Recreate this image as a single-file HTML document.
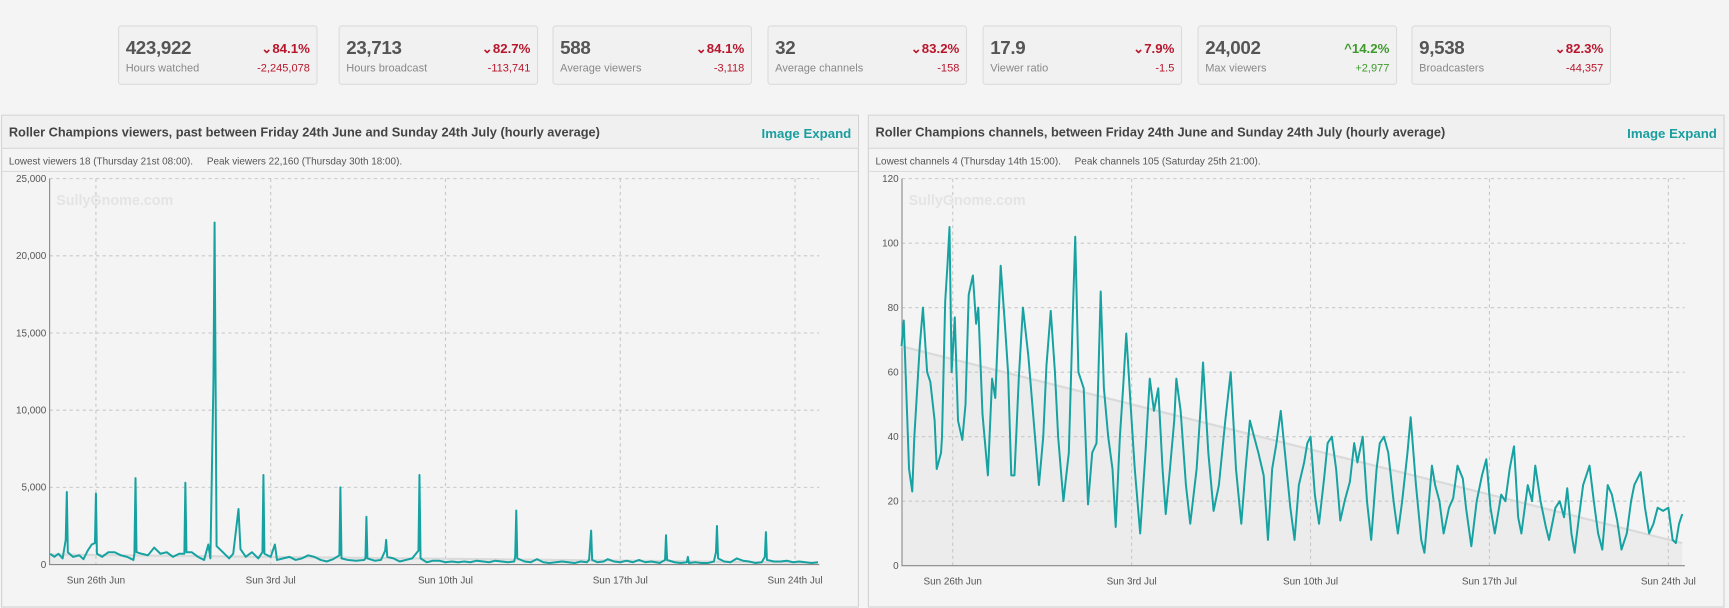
<!DOCTYPE html>
<html><head><meta charset="utf-8">
<style>
html,body{margin:0;padding:0;background:#f4f4f4;overflow:hidden}
body{width:1729px;height:597px;font-family:"Liberation Sans",sans-serif}
#wrap{position:absolute;left:0;top:0;width:1568px;height:542px;transform:scale(1.10268);transform-origin:0 0}
.card{position:absolute;top:23px;width:179px;height:52px;border:1px solid #dcdcdc;border-radius:3px;background:#f1f1f1}
.num{position:absolute;left:6px;top:10px;font-size:17px;color:#555;font-weight:bold;letter-spacing:-0.3px}
.lbl{position:absolute;left:6px;top:33px;font-size:10px;color:#888}
.pct{position:absolute;right:6px;top:13px;font-size:12px;font-weight:bold;color:#b8162c}
.dlt{position:absolute;right:6px;top:33px;font-size:10px;color:#b8162c}
.up{color:#3e9a2c}
.panel{position:absolute;top:104px;height:445px;border:1px solid #d2d2d2;background:#f4f4f4}
.phead{position:absolute;left:0;right:0;top:0;height:29px;border-bottom:1px solid #d8d8d8;background:#f0f0f0}
.ptitle{position:absolute;left:6px;top:9px;font-size:11.6px;font-weight:bold;color:#444}
.plinks{position:absolute;right:6px;top:9px;font-size:12px;font-weight:bold;color:#1a9e9e}
.psub{position:absolute;left:6px;top:36px;font-size:9px;color:#555}
.psubline{position:absolute;left:0;right:0;top:50px;border-top:1px solid #dcdcdc}
svg{position:absolute;left:0;top:0}
</style></head><body>
<div id="wrap">
<div class="card" style="left:107px"><div class="num">423,922</div><div class="lbl">Hours watched</div><div class="pct">⌄84.1%</div><div class="dlt">-2,245,078</div></div>
<div class="card" style="left:307px"><div class="num">23,713</div><div class="lbl">Hours broadcast</div><div class="pct">⌄82.7%</div><div class="dlt">-113,741</div></div>
<div class="card" style="left:501px"><div class="num">588</div><div class="lbl">Average viewers</div><div class="pct">⌄84.1%</div><div class="dlt">-3,118</div></div>
<div class="card" style="left:696px"><div class="num">32</div><div class="lbl">Average channels</div><div class="pct">⌄83.2%</div><div class="dlt">-158</div></div>
<div class="card" style="left:891px"><div class="num">17.9</div><div class="lbl">Viewer ratio</div><div class="pct">⌄7.9%</div><div class="dlt">-1.5</div></div>
<div class="card" style="left:1086px"><div class="num">24,002</div><div class="lbl">Max viewers</div><div class="pct up">^14.2%</div><div class="dlt up">+2,977</div></div>
<div class="card" style="left:1280px"><div class="num">9,538</div><div class="lbl">Broadcasters</div><div class="pct">⌄82.3%</div><div class="dlt">-44,357</div></div>

<div class="panel" style="left:1px;width:776px">
 <div class="phead"><div class="ptitle">Roller Champions viewers, past between Friday 24th June and Sunday 24th July (hourly average)</div>
 <div class="plinks"><span>Image</span> <span>Expand</span></div></div>
 <div class="psub">Lowest viewers 18 (Thursday 21st 08:00).&nbsp;&nbsp;&nbsp;&nbsp;&nbsp;Peak viewers 22,160 (Thursday 30th 18:00).</div>
 <div class="psubline"></div>
</div>
<div class="panel" style="left:787px;width:775px">
 <div class="phead"><div class="ptitle">Roller Champions channels, between Friday 24th June and Sunday 24th July (hourly average)</div>
 <div class="plinks"><span>Image</span> <span>Expand</span></div></div>
 <div class="psub">Lowest channels 4 (Thursday 14th 15:00).&nbsp;&nbsp;&nbsp;&nbsp;&nbsp;Peak channels 105 (Saturday 25th 21:00).</div>
 <div class="psubline"></div>
</div>
<svg id="chart" width="1568" height="542"></svg>
</div>
<script>
// hours since Fri 24 Jun 00:00
const xTickLabels = ["Sun 26th Jun","Sun 3rd Jul","Sun 10th Jul","Sun 17th Jul","Sun 24th Jul"];
const xTickHours = [48,216,384,552,720];
const viewerTicks = [0,5000,10000,15000,20000,25000];
const viewerTickLabels = ["0","5,000","10,000","15,000","20,000","25,000"];
const channelTicks = [0,20,40,60,80,100,120];
const channelTickLabels = ["0","20","40","60","80","100","120"];
const viewerHours = [4,8,12,16,19,20,21,26,32,36,40,44,47,48,49,54,60,66,72,78,84,85,86,87,92,98,104,110,116,122,128,133,134,135,140,146,152,156,158,161,162,163,164,170,176,180,185,187,192,198,204,208,209,210,216,220,222,228,234,240,246,252,258,264,270,276,282,283,284,290,298,306,307,308,309,316,322,326,327,328,334,340,346,352,358,359,360,366,372,378,384,390,396,402,408,414,420,426,432,438,444,450,451,452,453,460,466,472,478,484,490,496,502,508,514,520,522,524,525,530,536,540,546,552,558,564,570,576,582,590,595,596,597,604,610,616,617,618,624,630,636,642,644,645,646,652,658,664,670,676,682,688,691,692,693,700,706,712,718,724,730,736,742];
const viewerValues = [700,500,700,400,1600,4700,800,500,600,350,900,1300,1400,4600,700,500,800,800,600,500,300,700,5600,800,700,600,1100,700,800,500,700,700,5300,800,800,500,300,1300,400,12000,22160,12000,1200,800,400,700,3600,1000,500,800,400,800,5800,700,500,1300,300,400,500,300,400,600,500,300,200,350,600,5000,400,300,250,300,400,3100,400,250,300,900,1600,500,400,200,300,400,900,5800,400,150,250,250,150,200,150,200,150,250,200,150,250,200,150,200,500,3500,400,200,150,350,150,100,150,200,150,100,200,150,300,2200,300,150,200,350,200,150,250,150,300,150,200,100,300,1900,300,150,100,150,500,100,150,100,100,200,800,2500,400,200,150,400,250,200,100,150,500,2100,300,200,200,250,150,200,150,100,150];
const viewerTrend = [650,120];
const channelHours = [0,2,7,10,12,17,20,24,27,31,33,37,38,41,43,45,47,50,53,57,60,63,67,70,72,76,81,85,88,93,97,100,103,106,110,114,119,124,129,133,136,140,144,147,152,157,161,163,166,171,175,179,183,187,190,194,198,201,205,208,211,215,219,224,229,233,237,241,245,248,252,256,258,262,267,271,277,281,283,288,293,298,304,309,314,319,323,327,331,335,340,344,348,352,356,360,365,369,373,378,381,384,388,392,397,400,404,408,412,416,421,425,428,433,437,441,446,449,453,457,462,466,470,475,478,483,488,491,494,498,501,505,509,514,518,522,527,530,535,540,545,549,553,557,563,567,571,575,579,582,588,592,595,600,605,608,614,618,622,625,629,632,636,640,646,650,654,658,663,667,672,676,681,685,688,694,698,702,706,710,715,720,724,727,730,733];
const channelValues = [68,76,30,23,40,68,80,60,57,45,30,35,40,82,93,105,60,77,45,39,50,84,90,75,80,47,28,58,52,93,75,60,28,28,58,80,65,45,25,40,62,79,60,40,20,35,80,102,60,55,19,35,38,85,55,40,30,12,40,55,72,50,30,10,35,58,48,55,30,16,30,45,58,48,25,13,30,50,63,35,17,25,45,60,30,13,30,45,40,35,28,8,30,38,48,35,18,8,25,32,38,40,22,13,28,38,40,30,14,20,26,38,32,40,20,8,30,38,40,35,20,10,20,35,46,25,8,4,15,31,25,20,10,18,21,31,27,18,6,20,28,33,18,10,22,20,30,37,15,10,25,20,31,20,12,8,18,20,15,24,10,4,15,25,31,20,10,5,25,22,14,5,10,20,25,29,18,10,13,18,17,18,8,7,13,16];
const channelTrend = [68,7];

const svg = document.getElementById('chart');
const NS = 'http://www.w3.org/2000/svg';
function mk(tag, attrs){const e=document.createElementNS(NS,tag);for(const k in attrs)e.setAttribute(k,attrs[k]);svg.appendChild(e);return e;}

function drawChart(cfg){
  const x = h => cfg.x0 + (h - cfg.h0) * cfg.kx;
  const y = v => cfg.yb - (v / cfg.ymax) * (cfg.yb - cfg.yt);
  const hStart = cfg.hours[0], hEnd = cfg.hours[cfg.hours.length-1];
  const tf = mk('polygon',{points:`${x(hStart)},${y(cfg.trend[0])} ${x(hEnd)},${y(cfg.trend[1])} ${x(hEnd)},${y(0)} ${x(hStart)},${y(0)}`,fill:'#ececec'});
  
  
  cfg.ticks.forEach((t,i)=>{
    const yy=y(t);
    if(t>0){const g=mk('line',{x1:cfg.left,x2:cfg.right,y1:yy,y2:yy,stroke:'#c8c8c8','stroke-dasharray':'3,3','stroke-width':1});
      
      }
    const tx=mk('text',{x:cfg.left-3,y:yy+3,'text-anchor':'end','font-size':9,fill:'#555','font-family':'Liberation Sans, sans-serif'});
    tx.textContent=cfg.tickLabels[i];
    
    
  });
  xTickHours.forEach((h,i)=>{
    const xx=x(h);
    const g=mk('line',{x1:xx,x2:xx,y1:cfg.yt,y2:cfg.yb,stroke:'#c8c8c8','stroke-dasharray':'3,3','stroke-width':1});
    
    
    const tx=mk('text',{x:xx,y:cfg.yb+17,'text-anchor':'middle','font-size':9,fill:'#555','font-family':'Liberation Sans, sans-serif'});
    tx.textContent=xTickLabels[i];
    
    
  });
  const ax=mk('path',{d:`M${cfg.left},${cfg.yt} V${cfg.yb} H${cfg.right}`,stroke:'#888',fill:'none','stroke-width':1});
  
  
  const wm=mk('text',{x:cfg.left+6,y:cfg.yt+24,'font-size':13,'font-weight':'bold',fill:'#e4e4e4','font-family':'Liberation Sans, sans-serif'});
  wm.textContent='SullyGnome.com';
  
  
  const tl=mk('line',{x1:x(hStart),y1:y(cfg.trend[0]),x2:x(hEnd),y2:y(cfg.trend[1]),stroke:'#dadada','stroke-width':2});
  
  
  const pts=cfg.hours.map((h,i)=>x(h).toFixed(1)+','+y(cfg.values[i]).toFixed(1)).join(' ');
  const ln=mk('polyline',{points:pts,fill:'none',stroke:'#17a2a2','stroke-width':1.8,'stroke-linejoin':'round'});
  
  
}
drawChart({name:'viewers',hours:viewerHours,values:viewerValues,trend:viewerTrend,ticks:viewerTicks,tickLabels:viewerTickLabels,ymax:25000,
  x0:87,h0:48,kx:634/672,yt:162,yb:512,left:45,right:743});
drawChart({name:'channels',hours:channelHours,values:channelValues,trend:channelTrend,ticks:channelTicks,tickLabels:channelTickLabels,ymax:120,
  x0:864,h0:48,kx:649/672,yt:162,yb:513,left:818,right:1528});
</script>
</body></html>
